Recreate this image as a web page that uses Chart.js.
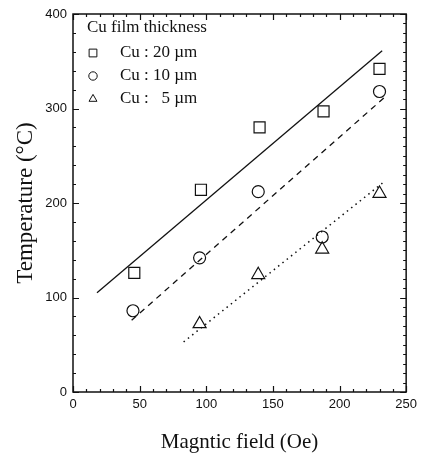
<!DOCTYPE html>
<html>
<head>
<meta charset="utf-8">
<script src="https://cdn.jsdelivr.net/npm/chart.js@4/dist/chart.umd.min.js"></script>
<style>
  html, body { margin: 0; padding: 0; background: #fff; }
  #wrap { width: 422px; height: 455px; position: relative; }
</style>
</head>
<body>
<div id="wrap"><canvas id="magChart"></canvas></div>
<script>
// ---- data ----
const legendTitle = 'Cu film thickness';
const seriesLabels = ['Cu : 20 \u00b5m', 'Cu : 10 \u00b5m', 'Cu :   5 \u00b5m'];

const field20 = [46, 96, 140, 188, 230];
const temp20  = [126, 214, 280, 297, 342];
const field10 = [45, 95, 139, 187, 230];
const temp10  = [86, 142, 212, 164, 318];
const field5  = [95, 139, 187, 230];
const temp5   = [72, 124, 151, 210];

// fitted lines (end points)
const fit20X = [18, 232];  const fit20Y = [105, 361];
const fit10X = [44, 234];  const fit10Y = [76, 312];
const fit5X  = [83, 233];  const fit5Y  = [53, 222];

const xTicks = [0, 50, 100, 150, 200, 250];
const yTicks = [0, 100, 200, 300, 400];

const toPoints = (xs, ys) => xs.map((x, i) => ({ x: x, y: ys[i] }));

const markerDefaults = {
    showLine: false,
    borderColor: '#111',
    backgroundColor: 'rgba(0,0,0,0)',
    borderWidth: 1.2
};

// =============================================
// PLUGINS: inward ticks + frame, in-plot legend
// =============================================
const frameTicks = {
    id: 'frameTicks',
    afterDraw(chart) {
        const { ctx, chartArea: a, scales: { x, y } } = chart;
        ctx.save();
        ctx.strokeStyle = '#111';
        ctx.lineWidth = 1.2;
        ctx.beginPath();
        for (let v = 0; v <= 250; v += 10) {
            const px = Math.round(x.getPixelForValue(v)) + 0.5;
            const len = v % 50 === 0 ? 6 : 3;
            ctx.moveTo(px, a.bottom); ctx.lineTo(px, a.bottom - len);
            ctx.moveTo(px, a.top); ctx.lineTo(px, a.top + len);
        }
        for (let v = 0; v <= 400; v += 10) {
            const py = Math.round(y.getPixelForValue(v)) + 0.5;
            const major = v % 100 === 0;
            if (v % 20 === 0) {
                ctx.moveTo(a.left, py); ctx.lineTo(a.left + (major ? 6 : 3), py);
            }
            ctx.moveTo(a.right, py); ctx.lineTo(a.right - (major ? 6 : 3), py);
        }
        ctx.stroke();
        ctx.lineWidth = 1.5;
        ctx.strokeRect(a.left, a.top, a.right - a.left, a.bottom - a.top);
        ctx.restore();
    }
};

const insideLegend = {
    id: 'insideLegend',
    afterDraw(chart) {
        const { ctx, chartArea: a } = chart;
        ctx.save();
        ctx.textBaseline = 'middle';
        ctx.font = '17px "Liberation Serif", "Times New Roman", serif';
        ctx.fillStyle = '#111';
        ctx.fillText(legendTitle, a.left + 14, a.top + 14);
        const styles = ['rect', 'circle', 'triangle'];
        const radii = [5.5, 4.2, 4.6];
        seriesLabels.forEach((lab, i) => {
            const yy = a.top + 39 + i * 23;
            ctx.fillStyle = 'rgba(0,0,0,0)';
            ctx.strokeStyle = '#111';
            ctx.lineWidth = 1;
            Chart.helpers.drawPoint(ctx, {
                pointStyle: styles[i], radius: radii[i], borderWidth: 1, rotation: 0
            }, a.left + 20, yy);
            ctx.fillStyle = '#111';
            ctx.fillText(lab, a.left + 47, yy);
        });
        ctx.restore();
    }
};

const ctx = document.getElementById('magChart').getContext('2d');
const chart = new Chart(ctx, {
    type: 'scatter',
    data: {
        datasets: [
            { ...markerDefaults, label: seriesLabels[0], data: toPoints(field20, temp20), pointStyle: 'rect', pointRadius: 7.8 },
            { ...markerDefaults, label: seriesLabels[1], data: toPoints(field10, temp10), pointStyle: 'circle', pointRadius: 6 },
            { ...markerDefaults, label: seriesLabels[2], data: toPoints(field5, temp5), pointStyle: 'triangle', pointRadius: 7.5 },
            { label: 'fit 20', data: toPoints(fit20X, fit20Y), showLine: true, pointRadius: 0, borderColor: '#111', borderWidth: 1.3 },
            { label: 'fit 10', data: toPoints(fit10X, fit10Y), showLine: true, pointRadius: 0, borderColor: '#111', borderWidth: 1.3, borderDash: [6, 5] },
            { label: 'fit 5', data: toPoints(fit5X, fit5Y), showLine: true, pointRadius: 0, borderColor: '#111', borderWidth: 1.5, borderDash: [1.5, 4] }
        ]
    },
    options: {
        responsive: true,
        maintainAspectRatio: false,
        animation: false,
        layout: { padding: { left: 0, top: 14, right: 12, bottom: 0 } },
        plugins: {
            legend: { display: false },
            tooltip: { enabled: false }
        },
        scales: {
            x: {
                type: 'linear',
                min: 0, max: 250,
                afterFit: (s) => { s.height = 63; },
                afterBuildTicks: (s) => { s.ticks = xTicks.map(v => ({ value: v })); },
                grid: { display: false, drawTicks: false },
                border: { display: false },
                ticks: {
                    color: '#111',
                    padding: 5,
                    maxRotation: 0,
                    font: { family: '"Liberation Sans", Arial, sans-serif', size: 13 }
                },
                title: {
                    display: true,
                    text: 'Magntic field (Oe)',
                    color: '#111',
                    padding: { top: 8, bottom: 0 },
                    font: { family: '"Liberation Serif", "Times New Roman", serif', size: 21 }
                }
            },
            y: {
                min: 0, max: 400,
                afterFit: (s) => { s.width = 73; },
                afterBuildTicks: (s) => { s.ticks = yTicks.map(v => ({ value: v })); },
                grid: { display: false, drawTicks: false },
                border: { display: false },
                ticks: {
                    color: '#111',
                    padding: 6,
                    font: { family: '"Liberation Sans", Arial, sans-serif', size: 13 }
                },
                title: {
                    display: true,
                    text: 'Temperature (\u00b0C)',
                    color: '#111',
                    padding: { top: 12, bottom: 4 },
                    font: { family: '"Liberation Serif", "Times New Roman", serif', size: 23 }
                }
            }
        }
    },
    plugins: [frameTicks, insideLegend]
});
</script>
</body>
</html>
